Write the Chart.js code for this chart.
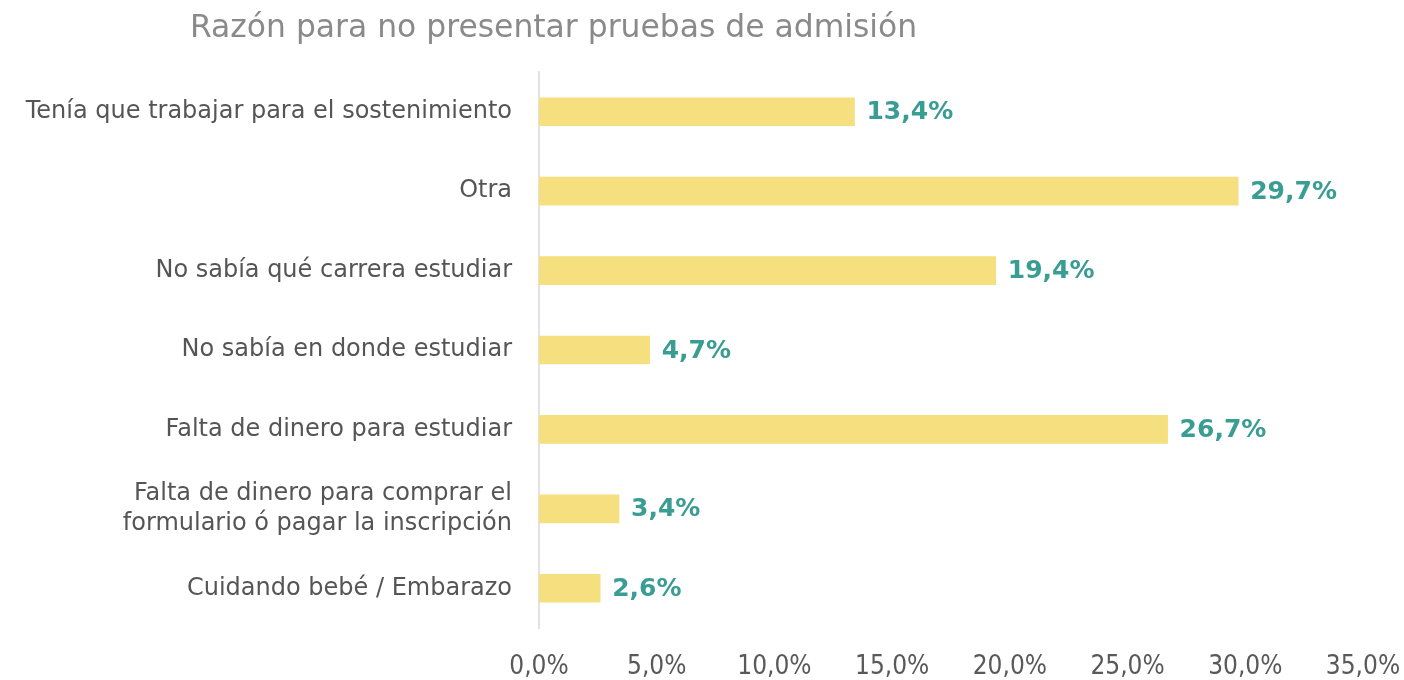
<!DOCTYPE html>
<html>
<head>
<meta charset="utf-8">
<script src="https://cdn.jsdelivr.net/npm/chart.js@4.4.1/dist/chart.umd.min.js"></script>
<style>
  html, body { margin: 0; padding: 0; background: #fff; }
  #wrap { width: 1404px; height: 680px; position: relative; }
</style>
</head>
<body>
<div id="wrap"><canvas id="chart"></canvas></div>
<script>
const titleText = 'Razón para no presentar pruebas de admisión';
const categories = [
  'Tenía que trabajar para el sostenimiento',
  'Otra',
  'No sabía qué carrera estudiar',
  'No sabía en donde estudiar',
  'Falta de dinero para estudiar',
  ['Falta de dinero para comprar el', 'formulario ó pagar la inscripción'],
  'Cuidando bebé / Embarazo'
];
const values = [13.4, 29.7, 19.4, 4.7, 26.7, 3.4, 2.6];
const xTicks = [0, 5, 10, 15, 20, 25, 30, 35];

const fmt = v => v.toFixed(1).replace('.', ',') + '%';

// title drawn at a fixed left offset, like the original
const titlePlugin = {
  id: 'leftTitle',
  afterDraw(chart) {
    const ctx = chart.ctx;
    ctx.save();
    ctx.font = '31.4px "DejaVu Sans", sans-serif';
    ctx.fillStyle = '#8a8a8a';
    ctx.textBaseline = 'middle';
    ctx.textAlign = 'left';
    ctx.fillText(titleText, 190, 29);
    ctx.restore();
  }
};

// value labels at the end of each bar
const valueLabels = {
  id: 'valueLabels',
  afterDatasetsDraw(chart) {
    const ctx = chart.ctx;
    const meta = chart.getDatasetMeta(0);
    ctx.save();
    ctx.font = 'bold 25px "DejaVu Sans", sans-serif';
    ctx.fillStyle = '#3a9d93';
    ctx.textBaseline = 'middle';
    ctx.textAlign = 'left';
    meta.data.forEach((bar, i) => {
      ctx.fillText(fmt(values[i]), bar.x + 12, bar.y + 1);
    });
    ctx.restore();
  }
};

new Chart(document.getElementById('chart'), {
  type: 'bar',
  data: {
    labels: categories,
    datasets: [{
      data: values,
      backgroundColor: '#f5df7e',
      borderWidth: 0,
      barThickness: 28
    }]
  },
  options: {
    indexAxis: 'y',
    responsive: true,
    maintainAspectRatio: false,
    animation: false,
    layout: { padding: { top: 72, right: 41, left: 0, bottom: 0 } },
    plugins: {
      legend: { display: false },
      tooltip: { enabled: false },
      title: { display: false }
    },
    scales: {
      x: {
        min: 0, max: 35,
        afterBuildTicks: s => { s.ticks = xTicks.map(v => ({ value: v })); },
        afterFit: s => { s.height = 52; s.paddingRight = 0; s.paddingLeft = 0; },
        grid: { display: false, drawTicks: false },
        border: { display: false },
        ticks: {
          padding: 24,
          color: '#595959',
          font: { size: 26, family: '"Liberation Sans Narrow", "DejaVu Sans Condensed", "Liberation Sans", sans-serif' },
          callback: v => fmt(v)
        }
      },
      y: {
        afterFit: s => { s.width = 539; },
        grid: { display: false, drawTicks: false },
        border: { display: true, color: '#e2e2e2', width: 2 },
        ticks: {
          padding: 27,
          color: '#555555',
          font: { size: 24, family: '"DejaVu Sans", sans-serif', lineHeight: 1.25 }
        }
      }
    }
  },
  plugins: [titlePlugin, valueLabels]
});
</script>
</body>
</html>
